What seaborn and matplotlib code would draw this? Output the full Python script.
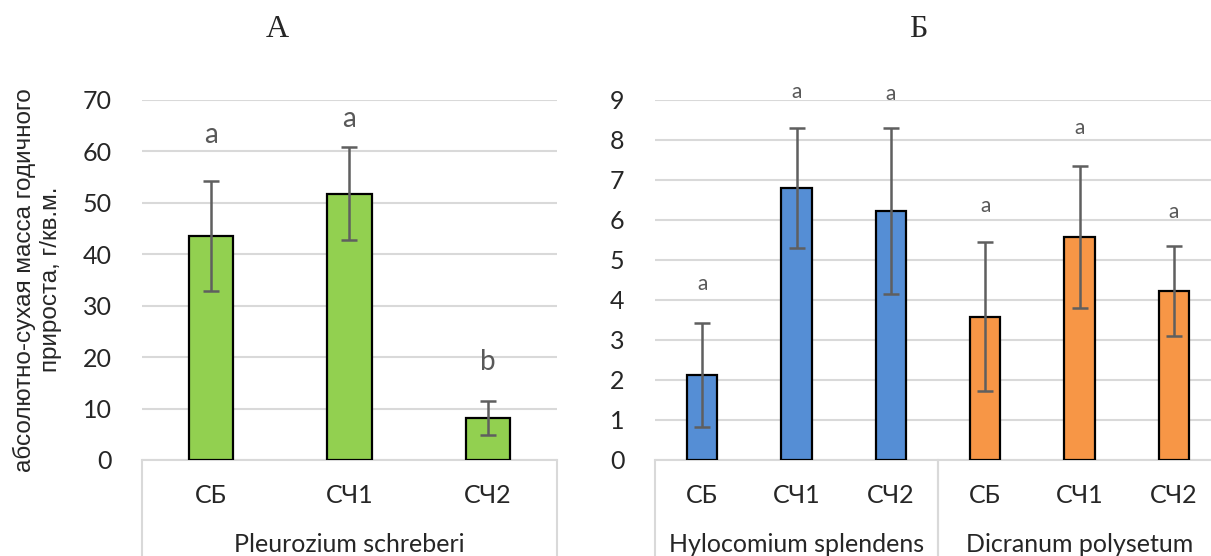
import numpy as np
import pandas as pd
import matplotlib
matplotlib.use('Agg')
import matplotlib.pyplot as plt
import seaborn as sns

# panel A - Pleurozium schreberi
cats_a = ['СБ', 'СЧ1', 'СЧ2']
mean_a = [43.6, 51.8, 8.2]
err_a = [10.7, 9.0, 3.3]
letters_a = ['a', 'a', 'b']
letter_y_a = [63.1, 66.3, 19.1]

# panel B - two species
species_b = ['Hylocomium splendens'] * 3 + ['Dicranum polysetum'] * 3
cats_b = ['СБ', 'СЧ1', 'СЧ2', 'СБ', 'СЧ1', 'СЧ2']
mean_b = [2.13, 6.8, 6.22, 3.58, 5.57, 4.23]
err_b = [1.3, 1.5, 2.07, 1.86, 1.77, 1.12]
letters_b = ['a', 'a', 'a', 'a', 'a', 'a']
letter_y_b = [4.4, 9.2, 9.15, 6.35, 8.3, 6.2]

sns.set_style('white')
plt.rcParams['font.family'] = ['Lato', 'DejaVu Sans']

grid_col = '#D9D9D9'
err_col = '#5F5F5F'

fig = plt.figure(figsize=(12.11, 5.56), dpi=100)
ax_a = fig.add_axes([0.1173, 0.1727, 0.3426, 0.6475])
ax_b = fig.add_axes([0.5409, 0.1727, 0.4674, 0.6475])

df_a = pd.DataFrame({'key': cats_a, 'val': mean_a, 'sp': 'Pleurozium schreberi'})
df_b = pd.DataFrame({'key': [s + '|' + c for s, c in zip(species_b, cats_b)],
                     'val': mean_b, 'sp': species_b})

sns.barplot(data=df_a, x='key', y='val', hue='sp', palette=['#92D050'], dodge=False,
            saturation=1, width=0.32, edgecolor='black', linewidth=1.6, legend=False,
            ax=ax_a, zorder=3)
sns.barplot(data=df_b, x='key', y='val', hue='sp', palette=['#558ED5', '#F79646'], dodge=False,
            saturation=1, width=0.32, edgecolor='black', linewidth=1.6, legend=False,
            ax=ax_b, zorder=3)

ax_a.errorbar(np.arange(len(cats_a)), mean_a, yerr=err_a, fmt='none', ecolor=err_col,
              elinewidth=1.8, capsize=6, capthick=1.8, zorder=4)
ax_b.errorbar(np.arange(len(cats_b)), mean_b, yerr=err_b, fmt='none', ecolor=err_col,
              elinewidth=1.8, capsize=6, capthick=1.8, zorder=4)

for i, (l, y) in enumerate(zip(letters_a, letter_y_a)):
    ax_a.text(i, y, l, ha='center', va='center', fontsize=20, color='#595959')
for i, (l, y) in enumerate(zip(letters_b, letter_y_b)):
    ax_b.text(i, y, l, ha='center', va='center', fontsize=15, color='#595959')

ax_a.set_ylim(0, 70)
ax_a.set_yticks(range(0, 71, 10))
ax_b.set_ylim(0, 9)
ax_b.set_yticks(range(0, 10))

for ax, cats, groups in [(ax_a, cats_a, [(0, 2, 'Pleurozium schreberi')]),
                         (ax_b, cats_b, [(0, 2, 'Hylocomium splendens'), (3, 5, 'Dicranum polysetum')])]:
    ax.set_xlim(-0.5, len(cats) - 0.5)
    ax.set_xlabel('')
    ax.set_ylabel('')
    ax.grid(axis='y', color=grid_col, linewidth=1.5, zorder=0)
    ax.set_axisbelow(True)
    for s in ['top', 'right', 'left']:
        ax.spines[s].set_visible(False)
    ax.spines['bottom'].set_color(grid_col)
    ax.spines['bottom'].set_linewidth(1.5)
    ax.set_xticks(range(len(cats)))
    ax.set_xticklabels(cats, fontsize=18)
    ax.tick_params(axis='x', length=0, pad=17)
    ax.tick_params(axis='y', length=0, pad=22, labelsize=18)
    trans = ax.get_xaxis_transform()
    for g0, g1, name in groups:
        ax.plot([g0 - 0.5, g0 - 0.5], [0, -0.4], color=grid_col, lw=1.5,
                transform=trans, clip_on=False)
        ax.plot([g1 + 0.5, g1 + 0.5], [0, -0.4], color=grid_col, lw=1.5,
                transform=trans, clip_on=False)
        ax.text((g0 + g1) / 2, -0.236, name, transform=trans, ha='center', va='center',
                fontsize=18)

fig.text(0.2286, 0.947, 'А', ha='center', va='center', fontsize=23, family='Liberation Serif')
fig.text(0.758, 0.947, 'Б', ha='center', va='center', fontsize=23, family='Liberation Serif')

fig.text(0.031, 0.497, 'абсолютно-сухая масса годичного\nприроста, г/кв.м.', rotation=90,
         ha='center', va='center', multialignment='center', fontsize=17.5,
         family='Liberation Sans', linespacing=1.25)

fig.savefig('out.png', dpi=100)
